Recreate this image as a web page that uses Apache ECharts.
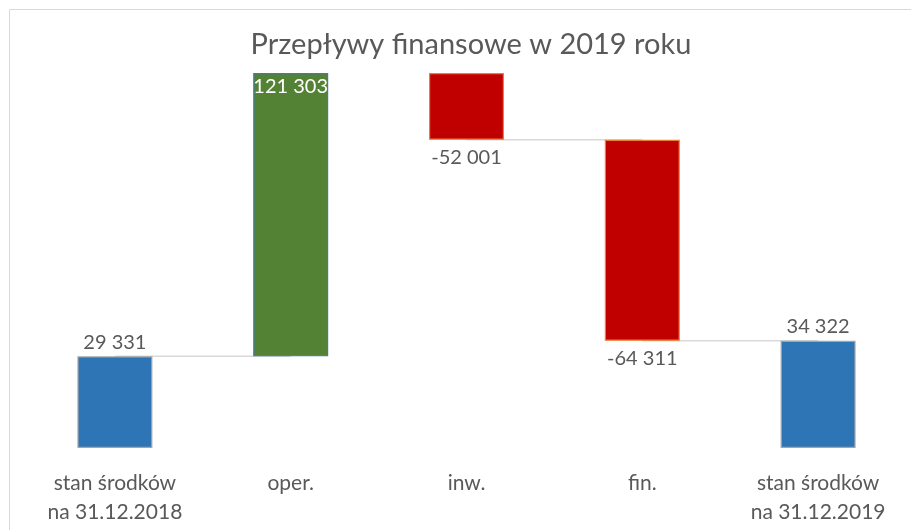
<!DOCTYPE html>
<html><head><meta charset="utf-8">
<script src="https://cdn.jsdelivr.net/npm/echarts@6/dist/echarts.min.js"></script>
<style>html,body{margin:0;padding:0;background:#fff}#c{width:911px;height:530px}</style>
</head><body><div id="c"></div>
<script>
var categories = ['stan środków\nna 31.12.2018', 'oper.', 'inw.', 'fin.', 'stan środków\nna 31.12.2019'];
var values = [29331, 121303, -52001, -64311, 34322];
var kinds = ['total', 'delta', 'delta', 'delta', 'total'];
var labelTexts = ['29 331', '121 303', '-52 001', '-64 311', '34 322'];
var yMax = 120000;

var fills = {total:'#2e75b6', up:'#548235', down:'#c00000'};
var borders = {total:'#a5a5a5', up:'#4472c4', down:'#ed7d31'};

var baseData = [], barData = [], levels = [];
var running = 0;
for (var i = 0; i < values.length; i++) {
  var lo, hi, type;
  if (kinds[i] === 'total') { lo = 0; hi = values[i]; running = values[i]; type = 'total'; }
  else {
    var prev = running; running = prev + values[i];
    lo = Math.min(prev, running); hi = Math.max(prev, running);
    type = values[i] >= 0 ? 'up' : 'down';
  }
  levels.push(running);
  var shownHi = Math.min(hi, yMax);
  var label;
  if (type === 'up') label = {show:true, position:'insideTop', distance:4, color:'#ffffff'};
  else if (type === 'down') label = {show:true, position:'bottom', distance:8, color:'#595959'};
  else label = {show:true, position:'top', distance:4, color:'#595959'};
  label.formatter = labelTexts[i];
  label.fontFamily = 'Lato'; label.fontSize = 20;
  baseData.push(lo);
  barData.push({value: shownHi - lo, label: label,
    itemStyle:{color: fills[type], borderColor: borders[type], borderWidth: 1.2}});
}
var connectors = [];
for (var j = 0; j < values.length - 1; j++) connectors.push([j, levels[j]]);

var chart = echarts.init(document.getElementById('c'));
chart.setOption({
  animation:false,
  backgroundColor:'#ffffff',
  title:{text:'Przepływy finansowe w 2019 roku', left:466, top:25, textAlign:'center',
    textStyle:{fontFamily:'Lato', fontSize:29, fontWeight:'normal', color:'#595959'}},
  graphic:[{type:'rect', shape:{x:9.5, y:9.5, width:920, height:540}, style:{fill:'none', stroke:'#d9d9d9', lineWidth:1}, silent:true}],
  grid:{left:27, right:5, top:73, bottom:82},
  xAxis:{type:'category', data:categories, axisLine:{show:false}, axisTick:{show:false},
    axisLabel:{margin:21, fontFamily:'Lato', fontSize:21, lineHeight:29, color:'#595959'}},
  yAxis:{type:'value', min:0, max:yMax, show:false, splitLine:{show:false}},
  series:[
    {type:'custom', z:1, data:connectors, renderItem:function(params, api){
      var lv = api.value(1);
      if (lv > yMax) return null;
      var a = api.coord([api.value(0), lv]);
      var b = api.coord([api.value(0) + 1, lv]);
      return {type:'line', shape:{x1:a[0], y1:a[1], x2:b[0], y2:b[1]}, style:{stroke:'#d9d9d9', lineWidth:1.5}};
    }},
    {type:'bar', stack:'w', z:2, data:baseData, itemStyle:{color:'transparent'}, barWidth:75, silent:true},
    {type:'bar', stack:'w', z:3, data:barData, barWidth:75}
  ]
});
</script></body></html>
